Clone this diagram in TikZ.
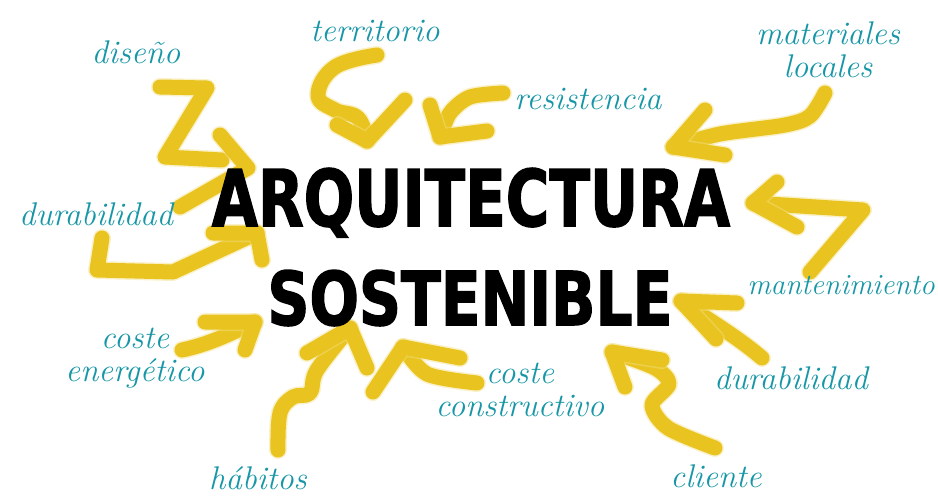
\documentclass[tikz,border=0pt]{standalone}
\usepackage{fontspec}
\usepackage{graphicx}
\usetikzlibrary{positioning}
\newfontfamily\titlefont{DejaVu Sans}[FakeBold=2]
\definecolor{brushyellow}{RGB}{233,196,32}
\definecolor{labelteal}{RGB}{22,150,166}

\begin{document}
\begin{tikzpicture}[
  x=0.03cm, y=-0.03cm,
  brush/.style={draw=brushyellow, line width=0.45cm, line cap=round, line join=round,
    preaction={draw=brushyellow!55, line width=0.54cm, line cap=round,
      line join=round, opacity=0.45}},
  lbl/.style={font=\fontsize{28}{28}\selectfont\itshape, text=labelteal,
    align=center, inner sep=0pt},
  title/.style={font=\titlefont\bfseries, anchor=base, inner sep=0pt},
]
\useasboundingbox (0,0) rectangle (938,495);

% === brush arrows (shaft, then head) ===
% diseño
\coordinate (tipDiseno) at (248, 168);
\draw[brush] (160, 87) -- (207, 88) -- (165, 157) -- (222, 160);
\draw[brush] (220, 135) -- (tipDiseno) -- (180, 207);

% durabilidad (left)
\coordinate (tipDurabL) at (257, 233);
\draw[brush] (102, 238) -- (97, 270) -- (173, 272) -- (tipDurabL);
\draw[brush] (213, 233) -- (tipDurabL) -- (262, 260);

% territorio
\coordinate (tipTerr) at (367, 141);
\draw[brush] plot[smooth, tension=0.7] coordinates
  {(377, 55) (335, 67) (318, 95) (335, 110) (358, 118) (tipTerr)};
\draw[brush] (337, 125) -- (tipTerr) -- (405, 100);

% resistencia
\coordinate (tipResist) at (440, 137);
\draw[brush] plot[smooth] coordinates
  {(503, 93) (470, 97) (450, 113) (tipResist)};
\draw[brush] (430, 105) -- (tipResist) -- (487, 131);

% materiales locales
\coordinate (tipMater) at (673, 147);
\draw[brush] plot[smooth] coordinates
  {(825, 93) (810, 116) (785, 125) (720, 134) (tipMater)};
\draw[brush] (705, 110) -- (tipMater) -- (725, 155);

% mantenimiento
\coordinate (tipMant) at (753, 203);
\draw[brush] (810, 272) -- (863, 210) -- (tipMant);
\draw[brush] (777, 182) -- (tipMant) -- (797, 227);

% durabilidad (right)
\coordinate (tipDurabR) at (681, 301);
\draw[brush] (762, 358) .. controls (735, 335) and (705, 318) .. (tipDurabR);
\draw[brush] (737, 303) -- (tipDurabR) -- (716, 339);

% cliente
\coordinate (tipCliente) at (612, 352);
\draw[brush] plot[smooth] coordinates
  {(tipCliente) (655, 368) (669, 384) (652, 405) (668, 428) (715, 448)};
\draw[brush] (662, 360) -- (tipCliente) -- (625, 387);

% coste constructivo
\coordinate (tipConstr) at (403, 347);
\draw[brush] plot[smooth] coordinates
  {(tipConstr) (427, 374) (477, 383)};
\draw[brush] (460, 358) -- (tipConstr) -- (373, 392);

% hábitos
\coordinate (tipHabitos) at (350, 328);
\draw[brush] plot[smooth, tension=0.6] coordinates
  {(278, 450) (280, 413) (293, 397) (310, 393) (317, 370) (tipHabitos)};
\draw[brush] (307, 353) -- (tipHabitos) -- (367, 368);

% coste energético
\coordinate (tipEnerg) at (255, 322);
\draw[brush] (182, 350) .. controls (205, 345) and (222, 338) .. (tipEnerg);
\draw[brush] (205, 322) -- (tipEnerg) -- (245, 350);

% === labels round the title ===
\node[lbl] (diseno) at (136, 52) {diseño};
\node[lbl] (territorio) at (375, 31) {territorio};
\node[lbl] (resistencia) at (588, 99) {resistencia};
\node[lbl] (materiales) at (828, 50) {materiales\\locales};
\node[lbl] (durabL) at (96, 214) {durabilidad};
\node[lbl, font=\fontsize{25}{25}\selectfont\itshape] (mantenim) at (841, 285) {mantenimiento};
\node[lbl] (durabR) at (791, 378) {durabilidad};
\node[lbl] (energetico) at (135, 358) {coste\\energético};
\node[lbl] (constructivo) at (520, 390) {coste\\constructivo};
\node[lbl] (habitos) at (258, 478) {hábitos};
\node[lbl] (cliente) at (716, 476) {cliente};

% === title ===
\node[title] (arquitectura) at (471, 226)
  {\resizebox{15.54cm}{1.74cm}{ARQUITECTURA}};
\node[title] (sostenible) at (470, 325)
  {\resizebox{12.15cm}{1.65cm}{SOSTENIBLE}};

\end{tikzpicture}
\end{document}
